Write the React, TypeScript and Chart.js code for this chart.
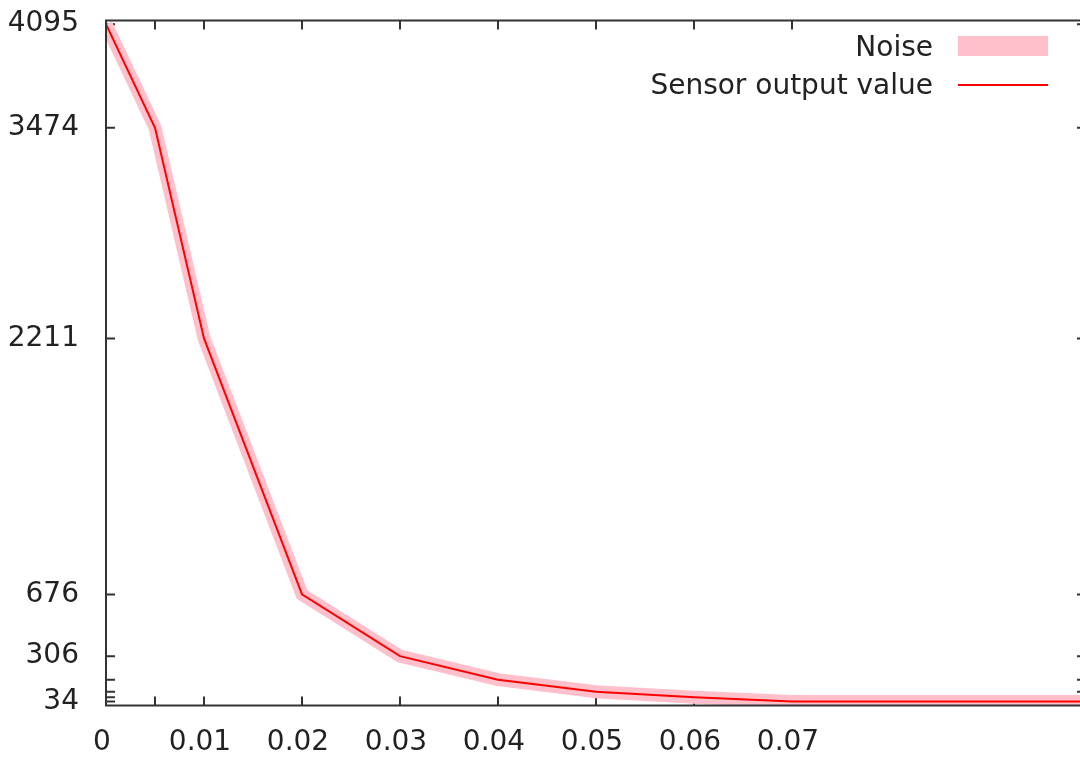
import React, { useEffect, useRef } from 'react';
import { Chart, registerables } from 'chart.js';

Chart.register(...registerables);

// ---- data ----
const distances = [0, 0.005, 0.01, 0.02, 0.03, 0.04, 0.05, 0.06, 0.07, 0.1];
const sensorValues = [4095, 3474, 2211, 676, 306, 165, 93, 60, 34, 34];
const noiseValues = [4095, 3474, 2211, 676, 306, 165, 93, 60, 34, 34];
const xTickValues = [0, 0.005, 0.01, 0.02, 0.03, 0.04, 0.05, 0.06, 0.07];
const xTickLabels = ['0', '', '0.01', '0.02', '0.03', '0.04', '0.05', '0.06', '0.07'];
const yTickValues = [34, 60, 93, 165, 306, 676, 2211, 3474, 4095];
const yTickLabels = ['34', '', '', '', '306', '676', '2211', '3474', '4095'];
const legendLabels = ['Noise', 'Sensor output value'];

const FONT = '"DejaVu Sans"';
const TEXT = '#222222';
const AXIS = '#333333';
const PINK = '#ffc0cb';
const RED = '#ff0000';

const ticksPlugin = {
  id: 'gpTicks',
  beforeDatasetsDraw(chart: any) {
    const { ctx, chartArea: a, scales } = chart;
    const L = 9;
    ctx.save();
    ctx.strokeStyle = AXIS;
    ctx.lineWidth = 2;
    ctx.beginPath();
    for (const v of xTickValues) {
      const x = scales.x.getPixelForValue(v);
      ctx.moveTo(x, a.bottom);
      ctx.lineTo(x, a.bottom - L);
      ctx.moveTo(x, a.top);
      ctx.lineTo(x, a.top + L);
    }
    for (const v of yTickValues) {
      const y = scales.y.getPixelForValue(v);
      ctx.moveTo(a.left, y);
      ctx.lineTo(a.left + L, y);
      ctx.moveTo(a.right, y);
      ctx.lineTo(a.right - L, y);
    }
    ctx.stroke();
    ctx.restore();
  },
  afterDatasetsDraw(chart: any) {
    const { ctx, chartArea: a } = chart;
    ctx.save();
    ctx.strokeStyle = AXIS;
    ctx.lineWidth = 2;
    ctx.strokeRect(a.left, a.top, a.right - a.left, a.bottom - a.top);
    ctx.restore();
  },
  afterDraw(chart: any) {
    const { ctx } = chart;
    ctx.save();
    ctx.font = `28px ${FONT}`;
    ctx.textAlign = 'right';
    ctx.textBaseline = 'alphabetic';
    ctx.fillStyle = TEXT;
    ctx.fillText(legendLabels[0], 933, 56);
    ctx.fillText(legendLabels[1], 933, 94);
    ctx.fillStyle = PINK;
    ctx.fillRect(958, 36, 90, 20);
    ctx.strokeStyle = RED;
    ctx.lineWidth = 2;
    ctx.beginPath();
    ctx.moveTo(958, 85);
    ctx.lineTo(1048, 85);
    ctx.stroke();
    ctx.restore();
  },
};

export default function App() {
  const ref = useRef<HTMLCanvasElement | null>(null);

  useEffect(() => {
    if (!ref.current) return;
    Chart.defaults.font.family = FONT;
    const chart = new Chart(ref.current, {
      type: 'line',
      data: {
        datasets: [
          {
            label: legendLabels[1],
            data: distances.map((x, i) => ({ x, y: sensorValues[i] })),
            borderColor: RED,
            borderWidth: 2,
            pointRadius: 0,
            fill: false,
            tension: 0,
            order: 0,
            clip: 0,
          },
          {
            label: legendLabels[0],
            data: distances.map((x, i) => ({ x, y: noiseValues[i] })),
            borderColor: PINK,
            borderWidth: 13,
            borderJoinStyle: 'miter',
            pointRadius: 0,
            fill: false,
            tension: 0,
            order: 1,
            clip: 0,
          },
        ],
      },
      options: {
        responsive: false,
        animation: false,
        layout: { padding: { top: 20.5, right: 14, left: 0, bottom: 0 } },
        plugins: {
          legend: { display: false },
          tooltip: { enabled: false },
        },
        scales: {
          x: {
            type: 'linear',
            min: 0,
            max: 0.1,
            grid: { display: false, drawTicks: false },
            border: { display: false },
            afterBuildTicks: (scale: any) => {
              scale.ticks = xTickValues.map((v) => ({ value: v }));
            },
            afterFit: (scale: any) => {
              scale.height = 52.5;
              scale.paddingLeft = 0;
              scale.paddingRight = 0;
            },
            ticks: {
              autoSkip: false,
              maxRotation: 0,
              minRotation: 0,
              padding: 20,
              labelOffset: -4,
              color: TEXT,
              font: { size: 28, family: FONT },
              callback: (_v: any, i: number) => xTickLabels[i],
            },
          },
          y: {
            type: 'linear',
            min: 10,
            max: 4117,
            grid: { display: false, drawTicks: false },
            border: { display: false },
            afterBuildTicks: (scale: any) => {
              scale.ticks = yTickValues.map((v) => ({ value: v }));
            },
            afterFit: (scale: any) => {
              scale.width = 106;
              scale.paddingTop = 0;
              scale.paddingBottom = 0;
            },
            ticks: {
              autoSkip: false,
              padding: 27,
              color: TEXT,
              font: { size: 28, family: FONT },
              callback: (_v: any, i: number) => yTickLabels[i],
            },
          },
        },
      } as any,
      plugins: [ticksPlugin],
    });
    return () => chart.destroy();
  }, []);

  return (
    <div
      style={{
        position: 'fixed',
        left: 0,
        top: 0,
        width: 1080,
        height: 758,
        overflow: 'hidden',
        background: '#fff',
      }}
    >
      <canvas ref={ref} width={1100} height={758} style={{ display: 'block' }} />
    </div>
  );
}
